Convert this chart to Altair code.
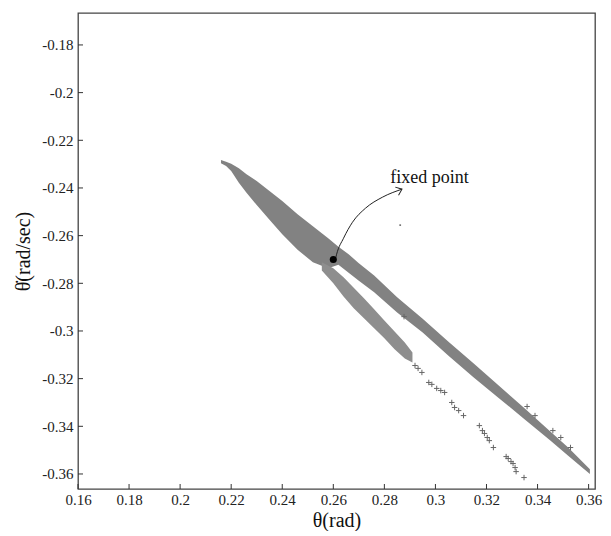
import altair as alt
import pandas as pd

# ---- data ----
# dense upper band (top / bottom edges)
band_x = [0.216, 0.218, 0.220, 0.223, 0.226, 0.230, 0.235, 0.240, 0.246, 0.252, 0.258,
          0.262, 0.266, 0.270, 0.276, 0.285, 0.295, 0.305, 0.315, 0.325, 0.335, 0.345, 0.352, 0.3605]
band_top = [-0.2283, -0.2290, -0.2298, -0.2317, -0.2342, -0.2371, -0.2413, -0.2455, -0.2510, -0.2561, -0.2611,
            -0.2647, -0.2678, -0.2716, -0.2767, -0.2859, -0.2949, -0.3044, -0.3136, -0.3231, -0.3325, -0.3422, -0.3489, -0.3580]
band_bottom = [-0.2296, -0.2308, -0.2329, -0.2378, -0.2420, -0.2472, -0.2533, -0.2594, -0.2659, -0.2712, -0.2737,
               -0.2722, -0.2756, -0.2789, -0.2838, -0.2922, -0.3006, -0.3103, -0.3195, -0.3283, -0.3371, -0.3460, -0.3523, -0.3600]

# lower (secondary) stream, dense part
stream_x = [0.2555, 0.260, 0.264, 0.268, 0.272, 0.276, 0.280, 0.284, 0.288, 0.291]
stream_top = [-0.2712, -0.2737, -0.2775, -0.2819, -0.2863, -0.2909, -0.2956, -0.3002, -0.3048, -0.3090]
stream_bottom = [-0.2746, -0.2800, -0.2855, -0.2905, -0.2947, -0.2989, -0.3031, -0.3077, -0.3115, -0.3132]

# sparse "+" points
sparse_x = [0.2877, 0.2920, 0.2932, 0.2947, 0.2974, 0.2986, 0.3005, 0.3021, 0.3036, 0.3064, 0.3075,
            0.3091, 0.3110, 0.3172, 0.3184, 0.3192, 0.3203, 0.3211, 0.3227, 0.3277, 0.3285, 0.3296,
            0.3304, 0.3312, 0.3316, 0.3347,
            0.3359, 0.3390, 0.3460, 0.3491, 0.3529]
sparse_y = [-0.2940, -0.3145, -0.3157, -0.3174, -0.3216, -0.3224, -0.3241, -0.3250, -0.3258, -0.3300, -0.3321,
            -0.3334, -0.3355, -0.3397, -0.3418, -0.3430, -0.3447, -0.3460, -0.3489, -0.3527, -0.3535, -0.3548,
            -0.3556, -0.3573, -0.3590, -0.3615,
            -0.3317, -0.3355, -0.3418, -0.3447, -0.3489]

fixed_x = [0.26]
fixed_y = [-0.27]
stray_x = [0.2862]
stray_y = [-0.2556]

arrow_x = [0.2609, 0.2613, 0.2640, 0.2675, 0.2726, 0.2792, 0.2869]
arrow_y = [-0.2695, -0.2678, -0.2611, -0.2544, -0.2485, -0.2439, -0.2405]
label_x = [0.2823]
label_y = [-0.2359]
label_text = ["fixed point"]

x_ticks = [0.16, 0.18, 0.20, 0.22, 0.24, 0.26, 0.28, 0.30, 0.32, 0.34, 0.36]
y_ticks = [-0.36, -0.34, -0.32, -0.30, -0.28, -0.26, -0.24, -0.22, -0.20, -0.18]
X_DOMAIN = [0.16, 0.3625]
Y_DOMAIN = [-0.3663, -0.1666]

W, H = 517, 476
FONT = "Liberation Serif"
LBL = "replace(format(datum.value, '.2~f'), '\u2212', '-')"

xs = alt.Scale(domain=X_DOMAIN, nice=False, zero=False)
ys = alt.Scale(domain=Y_DOMAIN, nice=False, zero=False)
X = alt.X("x:Q", scale=xs, title="θ(rad)",
          axis=alt.Axis(values=x_ticks, labelExpr=LBL, ticks=False, domain=False, grid=False,
                        labelFlush=False, labelPadding=3, titlePadding=3))
Y = alt.Y("y:Q", scale=ys, title="θ̇(rad/sec)",
          axis=alt.Axis(values=y_ticks, labelExpr=LBL, ticks=False, domain=False, grid=False,
                        labelFlush=False, labelPadding=5, titlePadding=8))

band_df = pd.DataFrame({"x": band_x, "y": band_top, "y2": band_bottom})
stream_df = pd.DataFrame({"x": stream_x, "y": stream_top, "y2": stream_bottom})
sparse_df = pd.DataFrame({"x": sparse_x, "y": sparse_y})
fixed_df = pd.DataFrame({"x": fixed_x, "y": fixed_y})
stray_df = pd.DataFrame({"x": stray_x, "y": stray_y})
arrow_df = pd.DataFrame({"x": arrow_x, "y": arrow_y, "o": list(range(len(arrow_x)))})
head_df = pd.DataFrame({"x": arrow_x[-1:], "y": arrow_y[-1:]})
label_df = pd.DataFrame({"x": label_x, "y": label_y, "t": label_text})
xt_df = pd.DataFrame({"x": x_ticks})
yt_df = pd.DataFrame({"y": y_ticks})

band = alt.Chart(band_df).mark_area(color="#828282", interpolate="linear").encode(
    x=X, y=Y, y2="y2:Q")
stream = alt.Chart(stream_df).mark_area(color="#8e8e8e", interpolate="linear").encode(
    x=alt.X("x:Q", scale=xs), y=alt.Y("y:Q", scale=ys), y2="y2:Q")
sparse = alt.Chart(sparse_df).mark_point(
    shape="M-1,0L1,0M0,-1L0,1", filled=False, stroke="#666", strokeWidth=1, size=30, opacity=1
).encode(x=alt.X("x:Q", scale=xs), y=alt.Y("y:Q", scale=ys))
stray = alt.Chart(stray_df).mark_point(shape="square", filled=True, color="#777", size=3, opacity=1).encode(
    x=alt.X("x:Q", scale=xs), y=alt.Y("y:Q", scale=ys))
fixed = alt.Chart(fixed_df).mark_point(shape="circle", filled=True, color="black", size=50, opacity=1).encode(
    x=alt.X("x:Q", scale=xs), y=alt.Y("y:Q", scale=ys))
arrow = alt.Chart(arrow_df).mark_line(color="#222", strokeWidth=1, interpolate="monotone").encode(
    x=alt.X("x:Q", scale=xs), y=alt.Y("y:Q", scale=ys), order="o:Q")
head = alt.Chart(head_df).mark_point(
    shape="M-1,-0.8L0,0L-1,0.8", filled=False, stroke="#222", strokeWidth=1, size=120, angle=338, opacity=1
).encode(x=alt.X("x:Q", scale=xs), y=alt.Y("y:Q", scale=ys))
label = alt.Chart(label_df).mark_text(font=FONT, fontSize=18, align="left", baseline="middle", color="#111").encode(
    x=alt.X("x:Q", scale=xs), y=alt.Y("y:Q", scale=ys), text="t:N")
xt = alt.Chart(xt_df).mark_rule(color="#333", strokeWidth=1).encode(
    x=alt.X("x:Q", scale=xs), y=alt.value(H), y2=alt.value(H - 5))
yt = alt.Chart(yt_df).mark_rule(color="#333", strokeWidth=1).encode(
    y=alt.Y("y:Q", scale=ys), x=alt.value(0), x2=alt.value(5))

chart = alt.layer(band, stream, sparse, stray, arrow, head, fixed, label, xt, yt).properties(
    width=W, height=H,
    autosize=alt.AutoSizeParams(type="none"),
    padding={"left": 70, "top": 5, "right": 8, "bottom": 42},
).configure_view(stroke="#444", strokeWidth=1.3).configure_axis(
    labelFont=FONT, labelFontSize=15, labelColor="#222",
    titleFont=FONT, titleFontSize=20, titleFontWeight="normal", titleColor="#111",
)

chart.save("out.html", embed_options={"renderer": "svg", "actions": False})
